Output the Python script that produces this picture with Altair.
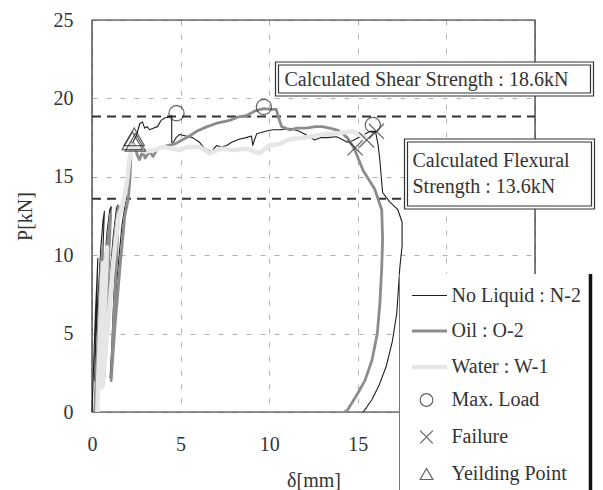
import altair as alt
import pandas as pd

# ---------------- data ----------------
series_names = ["No Liquid : N-2", "Oil : O-2", "Water : W-1"]

n2_x = [0.0, 0.05, 0.12, 0.2, 0.28, 0.33, 0.3, 0.24, 0.18, 0.15, 0.22, 0.35, 0.5, 0.62, 0.7, 0.62, 0.5, 0.4, 0.33,
        0.45, 0.65, 0.85, 1.0, 1.08, 0.98, 0.85, 0.72, 0.66, 0.8, 1.0, 1.2, 1.38, 1.45, 1.36, 1.22, 1.1, 1.02,
        1.2, 1.45, 1.7, 1.9, 2.05, 2.2, 2.35, 2.5, 2.6, 2.7, 2.85, 2.97, 3.1, 3.25, 3.45, 3.7, 3.9, 4.1, 4.3,
        4.5, 4.5, 4.6, 4.75, 4.94, 5.3, 5.68, 6.07, 6.36, 6.75, 7.03, 7.3, 7.6, 7.88, 8.3, 8.7, 9.0, 9.07,
        9.15, 9.3, 9.8, 10.2, 10.7, 11.15, 11.7, 12.2, 12.57, 12.9, 13.25, 13.8, 14.1, 14.4, 14.7, 15.2, 15.7,
        16.0, 16.15, 16.24, 16.4, 16.8, 17.26, 17.5, 17.5, 17.37, 17.2, 16.95, 16.6, 16.2, 15.8, 15.5, 15.3]
n2_y = [0.0, 1.5, 4.0, 6.5, 8.5, 9.8, 8.6, 6.0, 3.5, 2.0, 4.5, 7.5, 10.5, 12.2, 12.8, 10.5, 7.0, 4.0, 1.9,
        5.0, 8.5, 11.5, 12.9, 13.1, 10.5, 7.0, 3.8, 2.0, 5.0, 8.5, 11.2, 13.0, 13.2, 10.5, 7.0, 3.8, 2.2,
        5.5, 9.0, 12.0, 13.4, 15.0, 16.6, 17.3, 17.6, 18.0, 18.4, 18.5, 18.1, 18.2, 18.0, 18.1, 18.2, 18.6,
        18.75, 18.8, 18.9, 17.2, 17.2, 17.5, 17.7, 17.6, 17.5, 17.2, 16.8, 16.6, 17.0, 16.9, 17.0, 17.2, 17.4,
        17.5, 17.6, 17.0, 17.3, 17.75, 17.9, 18.0, 18.0, 18.1, 17.9, 17.6, 17.35, 17.5, 17.5, 17.55, 17.4,
        17.2, 17.3, 17.6, 17.9, 17.9, 17.0, 16.1, 14.0, 13.4, 12.9, 12.1, 10.6, 9.2, 6.3, 4.5, 2.9, 1.7, 0.8,
        0.3, 0.0]

o2_x = [0.15, 0.25, 0.38, 0.5, 0.6, 0.5, 0.4, 0.35, 0.5, 0.7, 0.9, 1.05, 0.95, 0.82, 0.7, 0.65, 0.85, 1.1,
        1.35, 1.5, 1.4, 1.25, 1.12, 1.08, 1.3, 1.6, 1.85, 2.05, 2.15, 2.2, 2.28, 2.4, 2.55, 2.68, 2.85, 3.0,
        3.25, 3.45, 3.7, 3.98, 4.3, 4.7, 5.0, 5.5, 5.9, 6.5, 7.0, 7.77, 8.2, 8.7, 9.2, 9.7, 10.1, 10.4, 10.55,
        10.7, 11.15, 11.6, 12.1, 12.6, 13.0, 13.4, 13.8, 14.1, 14.4, 14.8, 15.3, 15.96, 16.35, 16.4, 16.35,
        16.25, 16.1, 15.8, 15.4, 14.9, 14.4, 14.25]
o2_y = [0.0, 2.5, 6.0, 9.0, 10.5, 7.5, 4.0, 1.7, 4.5, 8.0, 11.0, 12.6, 10.0, 6.5, 3.0, 1.8, 5.5, 9.0, 12.0,
        13.1, 10.0, 6.5, 3.0, 2.0, 5.5, 9.5, 12.5, 13.6, 15.0, 16.5, 17.2, 17.0, 16.4, 16.1, 16.6, 16.2, 16.6,
        16.3, 16.8, 16.9, 17.0, 17.1, 17.3, 17.6, 17.9, 18.2, 18.4, 18.6, 18.8, 18.9, 19.2, 19.35, 19.3, 19.3,
        18.7, 18.2, 18.0, 18.1, 18.1, 18.2, 18.2, 18.1, 18.0, 17.8, 17.5, 16.8, 15.4, 14.2, 12.9, 11.0, 9.2,
        7.0, 5.0, 3.3, 2.0, 1.0, 0.1, 0.0]

w1_x = [0.3, 0.35, 0.45, 0.55, 0.62, 0.55, 0.45, 0.38, 0.5, 0.7, 0.85, 0.75, 0.62, 0.58, 0.9, 1.2, 1.5, 1.75,
        1.95, 2.1, 2.25, 2.5, 3.0, 3.5, 4.0, 4.5, 4.94, 5.4, 6.07, 6.64, 7.3, 7.95, 8.7, 9.46, 10.0, 10.6,
        11.15, 12.0, 13.0, 14.0, 14.7, 15.5]
w1_y = [0.0, 2.0, 5.0, 8.0, 9.5, 7.0, 4.0, 1.8, 4.5, 8.0, 10.5, 7.5, 4.0, 1.6, 5.5, 9.5, 12.5, 13.3, 14.5,
        16.0, 17.0, 16.8, 16.6, 16.7, 16.9, 16.8, 16.7, 16.9, 16.9, 16.5, 16.8, 16.7, 16.8, 16.5, 17.0, 17.1,
        17.4, 17.5, 17.7, 17.8, 17.9, 17.5]

marker_names = ["Max. Load", "Failure", "Yeilding Point"]
max_x = [4.77, 9.7, 15.85]
max_y = [19.05, 19.45, 18.3]
fail_x = [14.85, 15.5, 16.05]
fail_y = [16.85, 17.35, 17.9]
yield_x = [2.28, 2.38, 2.45]
yield_y = [17.3, 17.55, 17.2]

ref_values = [18.85, 13.6]   # calculated shear / flexural strength lines
shear_text = ["Calculated Shear Strength : 18.6kN"]
flex_text = ["Calculated Flexural", "Strength : 13.6kN"]
axis_ticks = [0, 5, 10, 15, 20, 25]

# ---------------- tables ----------------
rows = []
for name, xs_, ys_ in zip(series_names, [n2_x, o2_x, w1_x], [n2_y, o2_y, w1_y]):
    for i, (a, b) in enumerate(zip(xs_, ys_)):
        rows.append({"series": name, "i": i, "x": a, "y": b})
lines_df = pd.DataFrame(rows)

mrows = []
for name, xs_, ys_ in zip(marker_names[:2], [max_x, fail_x], [max_y, fail_y]):
    for a, b in zip(xs_, ys_):
        mrows.append({"marker": name, "x": a, "y": b})
markers_df = pd.DataFrame(mrows)
yield_df = pd.DataFrame({"marker": [marker_names[2]] * len(yield_x), "x": yield_x, "y": yield_y})

FONT = "Liberation Serif"
TXT = "#333333"
PX_X = 443 / 25.0
PX_Y = 392 / 25.0

xs = alt.Scale(domain=[0, 25], nice=False, zero=False)
ys = alt.Scale(domain=[0, 25], nice=False, zero=False)

# x labels 20 and 25 sit under the legend panel in the reference: keep their grid lines only
x_axis = alt.Axis(values=axis_ticks, grid=True, gridDash=[5, 9], gridColor="#b0b0b0", gridWidth=1,
                  ticks=False, domain=False, labelFlush=False, labelFont=FONT, labelFontSize=20,
                  labelExpr="datum.value <= 15 ? datum.label : ''",
                  labelColor=TXT, labelPadding=22, title="δ[mm]", titleFont=FONT, titleFontSize=20,
                  titleFontWeight="normal", titleColor=TXT, titlePadding=16)
y_axis = alt.Axis(values=axis_ticks, grid=True, gridDash=[5, 9], gridColor="#b0b0b0", gridWidth=1,
                  ticks=False, domain=False, labelFlush=False, labelFont=FONT, labelFontSize=20,
                  labelColor=TXT, labelPadding=19, title="P[kN]", titleFont=FONT, titleFontSize=20,
                  titleFontWeight="normal", titleColor=TXT, titlePadding=18)

base_frame = pd.DataFrame({"x": [axis_ticks[0]], "x2": [axis_ticks[-1]], "y": [axis_ticks[0]], "y2": [axis_ticks[-1]]})
frame = alt.Chart(base_frame).mark_rect(fill=None, stroke="#333333", strokeWidth=1.2).encode(
    x=alt.X("x:Q", scale=xs, axis=x_axis), x2="x2:Q",
    y=alt.Y("y:Q", scale=ys, axis=y_axis), y2="y2:Q")

refs = alt.Chart(pd.DataFrame({"y": ref_values})).mark_rule(
    color="#333333", strokeWidth=2, strokeDash=[9, 6]).encode(
    y=alt.Y("y:Q", scale=ys), x=alt.value(0), x2=alt.value(443))

line_legend = dict(orient="none", legendX=410 - 92.5, legendY=277 - 20, title=None,
                   padding=0, rowPadding=6, symbolType="stroke", symbolSize=1225,
                   labelFont=FONT, labelFontSize=20, labelColor=TXT, labelOffset=2, labelLimit=400)
lines = alt.Chart(lines_df).mark_line(strokeJoin="round").encode(
    x=alt.X("x:Q", scale=xs),
    y=alt.Y("y:Q", scale=ys),
    order=alt.Order("i:Q"),
    detail="series:N",
    color=alt.Color("series:N",
                    scale=alt.Scale(domain=series_names, range=["#1e1e1e", "#8c8c8c", "#e6e6e6"]),
                    legend=alt.Legend(**line_legend)),
    strokeWidth=alt.StrokeWidth("series:N",
                                scale=alt.Scale(domain=series_names, range=[1.1, 4.5, 2.8]),
                                legend=alt.Legend(**line_legend)),
)

x_path = "M-1,-1L1,1M-1,1L1,-1"
pts = alt.Chart(markers_df).mark_point(filled=False, color="#222222", strokeWidth=1.2, size=230).encode(
    x=alt.X("x:Q", scale=xs),
    y=alt.Y("y:Q", scale=ys),
    shape=alt.Shape("marker:N",
                    scale=alt.Scale(domain=marker_names, range=["circle", x_path, "triangle-up"]),
                    legend=alt.Legend(orient="none", legendX=417 - 92.5, legendY=390 - 20, title=None,
                                      padding=0, rowPadding=17, symbolSize=160, symbolStrokeWidth=1.2,
                                      symbolStrokeColor="#222222", symbolFillColor="transparent",
                                      labelFont=FONT, labelFontSize=20, labelColor=TXT, labelOffset=15,
                                      labelLimit=400)),
)
tri = alt.Chart(yield_df).mark_point(filled=False, color="#222222", strokeWidth=1.2, size=420,
                                     shape="triangle-up").encode(
    x=alt.X("x:Q", scale=xs), y=alt.Y("y:Q", scale=ys))

# legend panel (white box with thin left and heavy right border)
lx0 = (400 - 92.5) / PX_X
lx1 = (591 - 92.5) / PX_X
ly0 = (412 - 274) / PX_Y
ly1 = (412 - 495) / PX_Y
panel = alt.Chart(pd.DataFrame({"x": [lx0], "x2": [lx1], "y": [ly0], "y2": [ly1]})).mark_rect(
    fill="white", stroke=None).encode(x=alt.X("x:Q", scale=xs), x2="x2:Q", y=alt.Y("y:Q", scale=ys), y2="y2:Q")
panel_left = alt.Chart(pd.DataFrame({"x": [lx0], "y": [ly0], "y2": [ly1]})).mark_rule(
    color="#777777", strokeWidth=1).encode(x=alt.X("x:Q", scale=xs), y=alt.Y("y:Q", scale=ys), y2="y2:Q")
panel_right = alt.Chart(pd.DataFrame({"x": [lx1], "y": [ly0], "y2": [ly1]})).mark_rule(
    color="#111111", strokeWidth=3.5).encode(x=alt.X("x:Q", scale=xs), y=alt.Y("y:Q", scale=ys), y2="y2:Q")


def box(px0, px1, py0, py1):
    d = pd.DataFrame({"x": [(px0 - 92.5) / PX_X], "x2": [(px1 - 92.5) / PX_X],
                      "y": [(412 - py0) / PX_Y], "y2": [(412 - py1) / PX_Y]})
    di = pd.DataFrame({"x": [(px0 + 3 - 92.5) / PX_X], "x2": [(px1 - 3 - 92.5) / PX_X],
                       "y": [(412 - py0 - 3) / PX_Y], "y2": [(412 - py1 + 3) / PX_Y]})
    outer = alt.Chart(d).mark_rect(fill="white", stroke="#333333", strokeWidth=1.2).encode(
        x=alt.X("x:Q", scale=xs), x2="x2:Q", y=alt.Y("y:Q", scale=ys), y2="y2:Q")
    inner = alt.Chart(di).mark_rect(fill=None, stroke="#333333", strokeWidth=1.2).encode(
        x=alt.X("x:Q", scale=xs), x2="x2:Q", y=alt.Y("y:Q", scale=ys), y2="y2:Q")
    return outer + inner


shear_box = box(276, 594, 62, 96)
flex_box = box(405, 595, 139, 209)

shear_df = pd.DataFrame({"t": shear_text, "x": [(285 - 92.5) / PX_X], "y": [(412 - 86) / PX_Y]})
flex_df = pd.DataFrame({"t": flex_text, "x": [(413 - 92.5) / PX_X] * 2,
                        "y": [(412 - 167) / PX_Y, (412 - 193) / PX_Y]})
txt_kw = dict(font=FONT, fontSize=20, color=TXT, align="left", baseline="alphabetic")
shear_lbl = alt.Chart(shear_df).mark_text(**txt_kw).encode(
    x=alt.X("x:Q", scale=xs), y=alt.Y("y:Q", scale=ys), text="t:N")
flex_lbl = alt.Chart(flex_df).mark_text(**txt_kw).encode(
    x=alt.X("x:Q", scale=xs), y=alt.Y("y:Q", scale=ys), text="t:N")

chart = alt.layer(
    frame, refs, lines, pts, tri, panel, panel_left, panel_right, shear_box, flex_box, shear_lbl, flex_lbl
).properties(
    width=443, height=392,
    autosize=alt.AutoSizeParams(type="none"),
    padding={"left": 92, "top": 20, "right": 68, "bottom": 78},
).configure_view(stroke=None).configure(background="white")

chart.save("out.html", embed_options={"renderer": "svg", "actions": False})
